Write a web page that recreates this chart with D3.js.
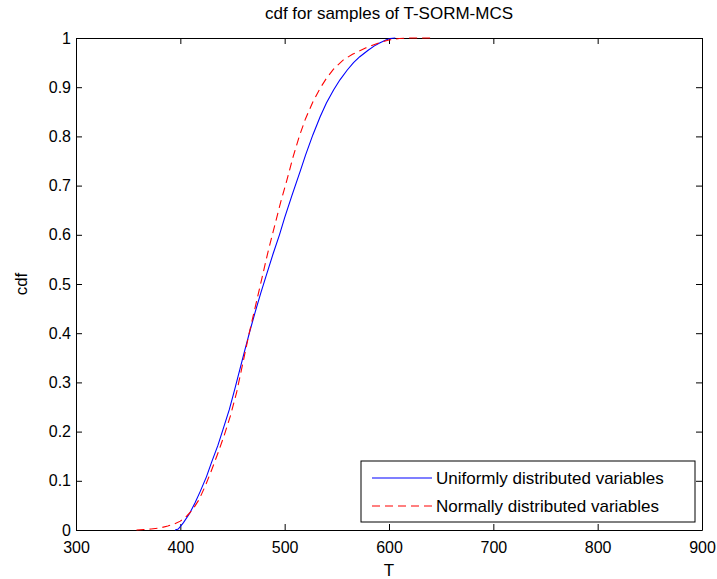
<!DOCTYPE html>
<html>
<head>
<meta charset="utf-8">
<script src="https://cdn.jsdelivr.net/npm/d3@7"></script>
<style>
  body { margin: 0; background: #fff; }
  text { font-family: "Liberation Sans", Arial, sans-serif; }
</style>
</head>
<body>
<div id="chart"></div>
<script>
// Data
const uniformT = [395, 398, 403, 409, 414, 419, 425, 430, 436, 441, 447, 452, 457, 462, 467, 472, 477, 482, 489, 495, 500, 507, 515, 520, 527, 534, 540, 547, 553, 560, 566, 572, 580, 586, 591, 597, 601, 606];
const uniformCdf = [0, 0.002, 0.015, 0.034, 0.055, 0.078, 0.108, 0.138, 0.172, 0.205, 0.245, 0.285, 0.326, 0.367, 0.407, 0.445, 0.481, 0.515, 0.562, 0.6, 0.635, 0.68, 0.73, 0.762, 0.803, 0.84, 0.868, 0.895, 0.915, 0.935, 0.95, 0.962, 0.975, 0.984, 0.99, 0.996, 0.999, 1];

const normalT = [358, 365, 372, 380, 388, 394, 400, 406, 412, 418, 424, 430, 436, 442, 448, 454, 460, 466, 472, 478, 484, 490, 496, 502, 508, 514, 520, 527, 534, 540, 547, 556, 565, 578, 590, 600, 610, 620, 640];
const normalCdf = [0, 0.001, 0.002, 0.004, 0.008, 0.012, 0.018, 0.028, 0.042, 0.062, 0.09, 0.122, 0.156, 0.192, 0.232, 0.28, 0.34, 0.4, 0.455, 0.51, 0.565, 0.615, 0.665, 0.71, 0.758, 0.8, 0.836, 0.87, 0.898, 0.918, 0.937, 0.955, 0.967, 0.98, 0.99, 0.996, 0.999, 1, 1];

const xTicks = [300, 400, 500, 600, 700, 800, 900];
const yTicks = [0, 0.1, 0.2, 0.3, 0.4, 0.5, 0.6, 0.7, 0.8, 0.9, 1];
const yTickLabels = ["0", "0.1", "0.2", "0.3", "0.4", "0.5", "0.6", "0.7", "0.8", "0.9", "1"];
const seriesNames = ["Uniformly distributed variables", "Normally distributed variables"];

const width = 717, height = 579;
const plotLeft = 76, plotRight = 702, plotTop = 38, plotBottom = 530;

const svg = d3.select("#chart").append("svg")
    .attr("width", width)
    .attr("height", height);

const x = d3.scaleLinear().domain([300, 900]).range([plotLeft, plotRight]);
const y = d3.scaleLinear().domain([0, 1]).range([plotBottom, plotTop]);

// plot box
svg.append("rect")
    .attr("x", plotLeft).attr("y", plotTop)
    .attr("width", plotRight - plotLeft).attr("height", plotBottom - plotTop)
    .attr("fill", "#fff");

// axes with inward ticks (box on)
const tickLen = 6;
svg.append("g")
    .attr("transform", `translate(0,${plotBottom})`)
    .call(d3.axisBottom(x).tickValues(xTicks).tickSizeInner(-tickLen).tickSizeOuter(0).tickPadding(12))
    .call(g => g.selectAll("text").attr("font-size", 16).attr("fill", "#000"));
svg.append("g")
    .attr("transform", `translate(0,${plotTop})`)
    .call(d3.axisTop(x).tickValues(xTicks).tickSizeInner(-tickLen).tickSizeOuter(0).tickFormat(""));
svg.append("g")
    .attr("transform", `translate(${plotLeft},0)`)
    .call(d3.axisLeft(y).tickValues(yTicks).tickSizeInner(-tickLen).tickSizeOuter(0).tickPadding(5)
        .tickFormat((d, i) => yTickLabels[i]))
    .call(g => g.selectAll("text").attr("font-size", 16).attr("fill", "#000"));
svg.append("g")
    .attr("transform", `translate(${plotRight},0)`)
    .call(d3.axisRight(y).tickValues(yTicks).tickSizeInner(-tickLen).tickSizeOuter(0).tickFormat(""));
svg.selectAll(".domain").attr("stroke", "#000");
svg.selectAll(".tick line").attr("stroke", "#000");

// curves
const line = d3.line().x(d => x(d[0])).y(d => y(d[1]));
const uniformData = uniformT.map((t, i) => [t, uniformCdf[i]]);
const normalData = normalT.map((t, i) => [t, normalCdf[i]]);

svg.append("path")
    .datum(uniformData)
    .attr("d", line)
    .attr("fill", "none")
    .attr("stroke", "#0000ff")
    .attr("stroke-width", 1.1);

svg.append("path")
    .datum(normalData)
    .attr("d", line)
    .attr("fill", "none")
    .attr("stroke", "#ff0000")
    .attr("stroke-width", 1.1)
    .attr("stroke-dasharray", "8,5");

// title and labels
svg.append("text")
    .attr("x", (plotLeft + plotRight) / 2).attr("y", 19)
    .attr("text-anchor", "middle")
    .attr("font-size", 17)
    .text("cdf for samples of T-SORM-MCS");

svg.append("text")
    .attr("x", (plotLeft + plotRight) / 2).attr("y", 576)
    .attr("text-anchor", "middle")
    .attr("font-size", 17)
    .text("T");

svg.append("text")
    .attr("transform", `translate(27,${(plotTop + plotBottom) / 2}) rotate(-90)`)
    .attr("text-anchor", "middle")
    .attr("font-size", 17)
    .text("cdf");

// legend
const legend = svg.append("g");
legend.append("rect")
    .attr("x", 361).attr("y", 461)
    .attr("width", 334).attr("height", 61)
    .attr("fill", "#fff")
    .attr("stroke", "#000")
    .attr("stroke-width", 1);

const legendStyles = [
    { color: "#0000ff", dash: null },
    { color: "#ff0000", dash: "8,5" }
];
seriesNames.forEach((name, i) => {
    const cy = 478 + i * 28;
    legend.append("line")
        .attr("x1", 372).attr("x2", 432)
        .attr("y1", cy).attr("y2", cy)
        .attr("stroke", legendStyles[i].color)
        .attr("stroke-width", 1.1)
        .attr("stroke-dasharray", legendStyles[i].dash);
    legend.append("text")
        .attr("x", 436).attr("y", cy)
        .attr("dy", "0.35em")
        .attr("font-size", 17)
        .text(name);
});
</script>
</body>
</html>
